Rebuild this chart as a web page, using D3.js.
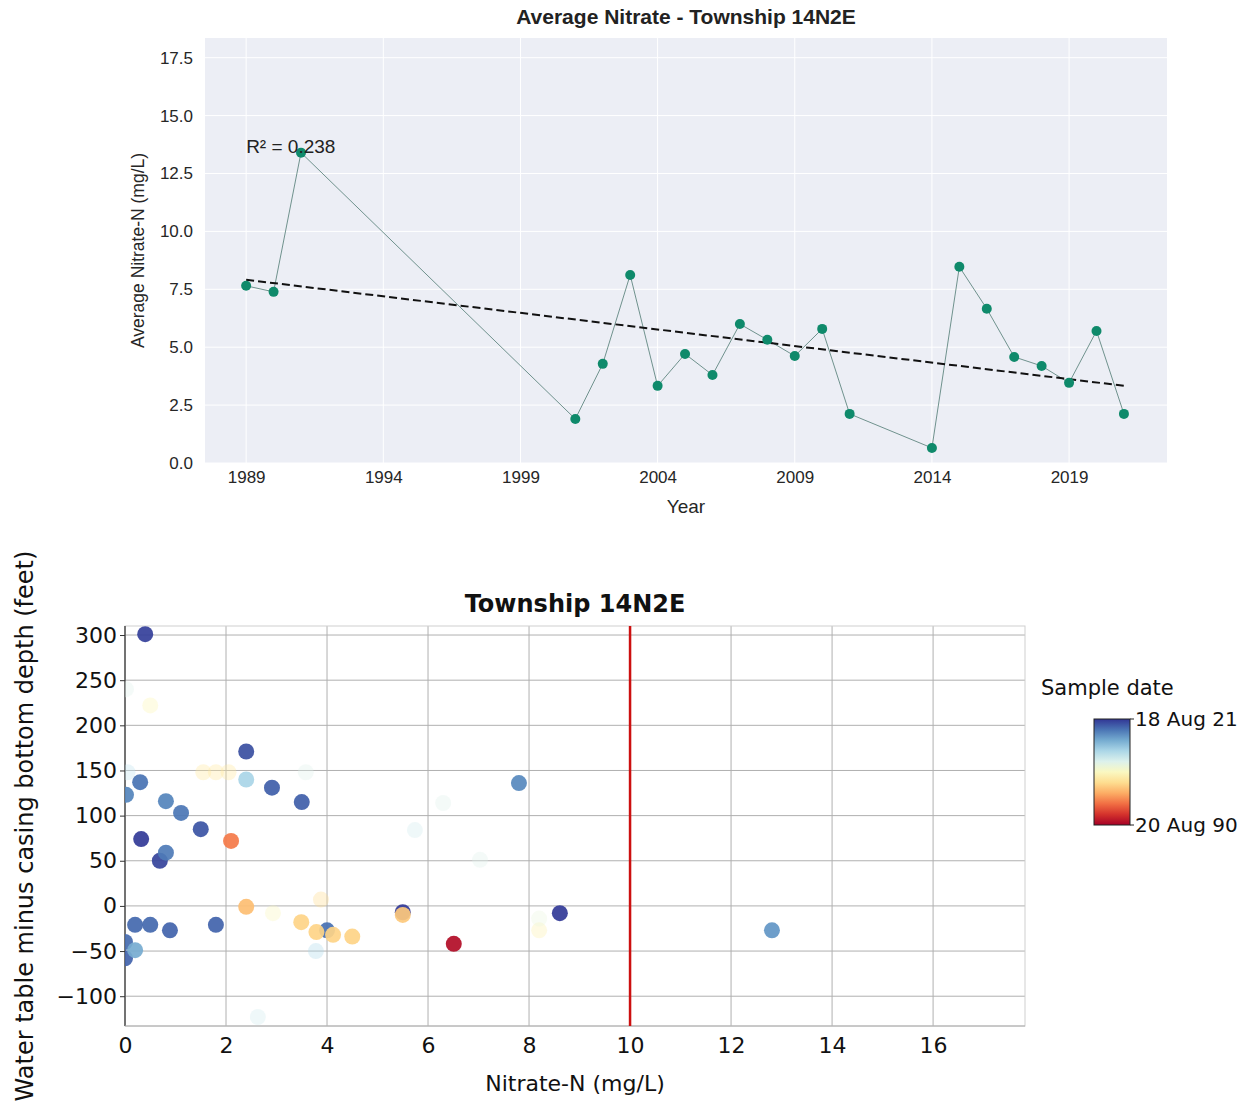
<!DOCTYPE html>
<html><head><meta charset="utf-8">
<script src="https://cdn.jsdelivr.net/npm/d3@7"></script>
<style>body{margin:0;background:#fff}svg{display:block}</style>
</head><body>
<svg id="c" width="1249" height="1103"></svg>
<script>
// ---------- Top chart data ----------
const years = [1989,1990,1991,2001,2002,2003,2004,2005,2006,2007,2008,2009,2010,2011,2014,2015,2016,2017,2018,2019,2020,2021];
const avgNitrate = [7.65,7.39,13.4,1.9,4.28,8.12,3.33,4.71,3.80,6.0,5.32,4.62,5.79,2.12,0.65,8.47,6.66,4.58,4.19,3.46,5.70,2.12];
const topXTicks = [1989,1994,1999,2004,2009,2014,2019];
const topYTicks = [0,2.5,5,7.5,10,12.5,15,17.5];

// ---------- Bottom scatter data ----------
const nitrateN = [0.40,0.30,0.02,0.81,1.11,2.40,2.40,2.91,3.50,1.50,0.32,0.69,0.81,2.10,0.20,0.50,0.89,1.80,0.00,0.00,0.20,4.00,2.40,3.49,3.79,4.12,4.50,5.50,5.50,6.51,8.61,7.80,12.81];
const depthDiff = [301,137,123,116,103,171,140,131,115,85,74,50,59,72,-21,-21,-27,-21,-40,-58,-49,-27,-1,-18,-29,-32,-34,-7,-10,-42,-8,136,-27];
const sampleDate = ["2021-03-01","2018-08-01","2017-09-01","2017-09-01","2018-06-01","2020-06-01","2012-06-01","2019-09-01","2019-09-01","2020-03-01","2021-06-01","2021-01-01","2018-03-01","1997-06-01","2019-03-01","2019-03-01","2019-06-01","2019-06-01","2019-01-01","2019-06-01","2015-06-01","2018-10-01","2001-01-01","2002-06-01","2002-06-01","2002-06-01","2002-06-01","2021-06-01","2001-09-01","1991-06-01","2021-06-01","2017-06-01","2016-09-01"];
// faint (low-weight) samples
const faintN = [0.02,0.50,1.55,1.80,2.05,3.58,0.05,2.63,3.78,6.30,5.74,7.03,2.93,8.20,8.20,3.88];
const faintDepth = [240,222,148,148,148,148,148,-123,-50,114,84,51,-8,-27,-14,7];
const faintDate = ["2009-01-01","2005-06-01","2004-01-01","2004-01-01","2004-01-01","2009-01-01","2011-01-01","2010-01-01","2012-01-01","2009-01-01","2010-01-01","2009-01-01","2006-01-01","2005-01-01","2008-01-01","2003-01-01"];
const botXTicks = [0,2,4,6,8,10,12,14,16];
const botYTicks = [-100,-50,0,50,100,150,200,250,300];
const limitN = 10;
const dateMin = "1990-08-20", dateMax = "2021-08-18";
const dateLabels = ["18 Aug 21","20 Aug 90"];

const svg = d3.select("#c");

// ================= TOP CHART =================
(function(){
  const L=205,R=1167,T=38,B=463;
  const FONT="'Liberation Sans', Arial, sans-serif";
  const x = d3.scaleLinear().domain([1987.5,2022.57]).range([L,R]);
  const y = d3.scaleLinear().domain([0,18.35]).range([B,T]);
  const g = svg.append("g").attr("font-family",FONT);
  g.append("rect").attr("x",L).attr("y",T).attr("width",R-L).attr("height",B-T).attr("fill","#eceef5");
  g.selectAll(".hg").data(topYTicks).join("line").attr("x1",L).attr("x2",R)
    .attr("y1",d=>y(d)).attr("y2",d=>y(d)).attr("stroke","#fff").attr("stroke-width",1);
  g.selectAll(".vg").data(topXTicks).join("line").attr("y1",T).attr("y2",B)
    .attr("x1",d=>x(d)).attr("x2",d=>x(d)).attr("stroke","#fff").attr("stroke-width",1);
  const xa = g.append("g").attr("transform",`translate(0,${B})`).call(d3.axisBottom(x).tickValues(topXTicks).tickFormat(d3.format("d")).tickSize(0).tickPadding(10));
  const ya = g.append("g").attr("transform",`translate(${L},0)`).call(d3.axisLeft(y).tickValues(topYTicks).tickFormat(d3.format(".1f")).tickSize(0).tickPadding(12));
  [xa,ya].forEach(a=>{a.select(".domain").remove();a.selectAll("text").attr("font-size",17).attr("fill","#262626").attr("font-family",FONT);});
  xa.selectAll("text").attr("dy","0.6em");
  const pts = years.map((yr,i)=>[yr,avgNitrate[i]]);
  g.append("path").datum(pts).attr("fill","none").attr("stroke","#4f7a72").attr("stroke-width",0.8)
    .attr("d",d3.line().x(d=>x(d[0])).y(d=>y(d[1])));
  const mx=d3.mean(years), my=d3.mean(avgNitrate);
  let sxy=0,sxx=0,syy=0;
  years.forEach((yr,i)=>{sxy+=(yr-mx)*(avgNitrate[i]-my);sxx+=(yr-mx)**2;syy+=(avgNitrate[i]-my)**2;});
  const slope=sxy/sxx, icpt=my-slope*mx, r2=sxy*sxy/(sxx*syy);
  const x0=d3.min(years), x1=d3.max(years);
  g.append("line").attr("x1",x(x0)).attr("y1",y(icpt+slope*x0)).attr("x2",x(x1)).attr("y2",y(icpt+slope*x1))
    .attr("stroke","#111").attr("stroke-width",2).attr("stroke-dasharray","8,4");
  g.selectAll(".pt").data(pts).join("circle").attr("cx",d=>x(d[0])).attr("cy",d=>y(d[1])).attr("r",5)
    .attr("fill","#0f8a6b");
  g.append("text").attr("x",x(1989)).attr("y",153).attr("font-size",19).attr("fill","#222")
    .text("R² = "+r2.toFixed(3));
  g.append("text").attr("x",(L+R)/2).attr("y",24).attr("text-anchor","middle").attr("font-size",21)
    .attr("font-weight","bold").attr("fill","#222").text("Average Nitrate - Township 14N2E");
  g.append("text").attr("x",(L+R)/2).attr("y",513).attr("text-anchor","middle").attr("font-size",19)
    .attr("fill","#262626").text("Year");
  g.append("text").attr("transform",`translate(144,${(T+B)/2}) rotate(-90)`).attr("text-anchor","middle")
    .attr("font-size",17.5).attr("fill","#262626").text("Average Nitrate-N (mg/L)");
})();

// ================= BOTTOM CHART =================
(function(){
  const L=125,R=1025,T=626,B=1026;
  const FONT="'DejaVu Sans', sans-serif";
  const x = d3.scaleLinear().domain([0,17.82]).range([L,R]);
  const y = d3.scaleLinear().domain([-133,310]).range([B,T]);
  const parse = d3.timeParse("%Y-%m-%d");
  const t0 = parse(dateMin), t1 = parse(dateMax);
  const cs = d3.scaleSequential(d3.interpolateRdYlBu).domain([t0,t1]);
  const g = svg.append("g").attr("font-family",FONT);
  g.append("defs").append("clipPath").attr("id","clipb").append("rect").attr("x",L).attr("y",T).attr("width",R-L).attr("height",B-T);
  g.selectAll(".hg").data(botYTicks).join("line").attr("x1",L).attr("x2",R)
    .attr("y1",d=>y(d)).attr("y2",d=>y(d)).attr("stroke","#b0b0b0").attr("stroke-width",1);
  g.selectAll(".vg").data(botXTicks).join("line").attr("y1",T).attr("y2",B)
    .attr("x1",d=>x(d)).attr("x2",d=>x(d)).attr("stroke","#b0b0b0").attr("stroke-width",1);
  g.append("rect").attr("x",L).attr("y",T).attr("width",R-L).attr("height",B-T).attr("fill","none").attr("stroke","#cfcfcf");
  g.append("line").attr("x1",L).attr("x2",L).attr("y1",T).attr("y2",B).attr("stroke","#333").attr("stroke-width",1.2);
  g.append("line").attr("x1",L).attr("x2",R).attr("y1",B).attr("y2",B).attr("stroke","#aaa").attr("stroke-width",1);
  const xa = g.append("g").attr("transform",`translate(0,${B})`).call(d3.axisBottom(x).tickValues(botXTicks).tickSize(0).tickPadding(8));
  const ya = g.append("g").attr("transform",`translate(${L},0)`).call(d3.axisLeft(y).tickValues(botYTicks).tickSize(5).tickPadding(3).tickFormat(d=>d<0?"\u2212"+Math.abs(d):d));
  [xa,ya].forEach(a=>{a.select(".domain").remove();a.selectAll("text").attr("font-size",22).attr("fill","#111").attr("font-family",FONT);a.selectAll("line").attr("stroke","#333");});
  xa.selectAll("text").attr("dy","0.85em");
  const pts = g.append("g").attr("clip-path","url(#clipb)");
  pts.selectAll(".f").data(faintN.map((n,i)=>({n,d:faintDepth[i],t:parse(faintDate[i])}))).join("circle")
    .attr("cx",p=>x(p.n)).attr("cy",p=>y(p.d)).attr("r",8).attr("fill",p=>cs(p.t)).attr("opacity",0.35);
  pts.selectAll(".s").data(nitrateN.map((n,i)=>({n,d:depthDiff[i],t:parse(sampleDate[i])}))).join("circle")
    .attr("cx",p=>x(p.n)).attr("cy",p=>y(p.d)).attr("r",8).attr("fill",p=>cs(p.t)).attr("opacity",0.92);
  g.append("line").attr("x1",x(limitN)).attr("x2",x(limitN)).attr("y1",T).attr("y2",B)
    .attr("stroke","#cc1010").attr("stroke-width",2.5);
  g.append("text").attr("x",(L+R)/2).attr("y",612).attr("text-anchor","middle").attr("font-size",24)
    .attr("font-weight","bold").attr("fill","#111").text("Township 14N2E");
  g.append("text").attr("x",(L+R)/2).attr("y",1091).attr("text-anchor","middle").attr("font-size",22)
    .attr("fill","#111").text("Nitrate-N (mg/L)");
  g.append("text").attr("transform",`translate(33,${(T+B)/2}) rotate(-90)`).attr("text-anchor","middle")
    .attr("font-size",24).attr("fill","#111").text("Water table minus casing bottom depth (feet)");
  const cbX=1094, cbW=36, cbT=719, cbB=825;
  const grad = g.select("defs").append("linearGradient").attr("id","cbg").attr("x1",0).attr("y1",1).attr("x2",0).attr("y2",0);
  d3.range(0,1.0001,0.1).forEach(s=>grad.append("stop").attr("offset",s).attr("stop-color",d3.interpolateRdYlBu(s)));
  g.append("rect").attr("x",cbX).attr("y",cbT).attr("width",cbW).attr("height",cbB-cbT).attr("fill","url(#cbg)").attr("stroke","#222").attr("stroke-width",1);
  const cby = d3.scaleTime().domain([t0,t1]).range([cbB,cbT]);
  [t1,t0].forEach((t,i)=>{
    g.append("line").attr("x1",cbX+cbW).attr("x2",cbX+cbW+4).attr("y1",cby(t)).attr("y2",cby(t)).attr("stroke","#222");
    g.append("text").attr("x",cbX+cbW+5).attr("y",cby(t)).attr("dy","0.35em").attr("font-size",20).attr("fill","#111").text(dateLabels[i]);
  });
  g.append("text").attr("x",1041).attr("y",695).attr("font-size",21).attr("fill","#111").text("Sample date");
})();
</script>
</body></html>
